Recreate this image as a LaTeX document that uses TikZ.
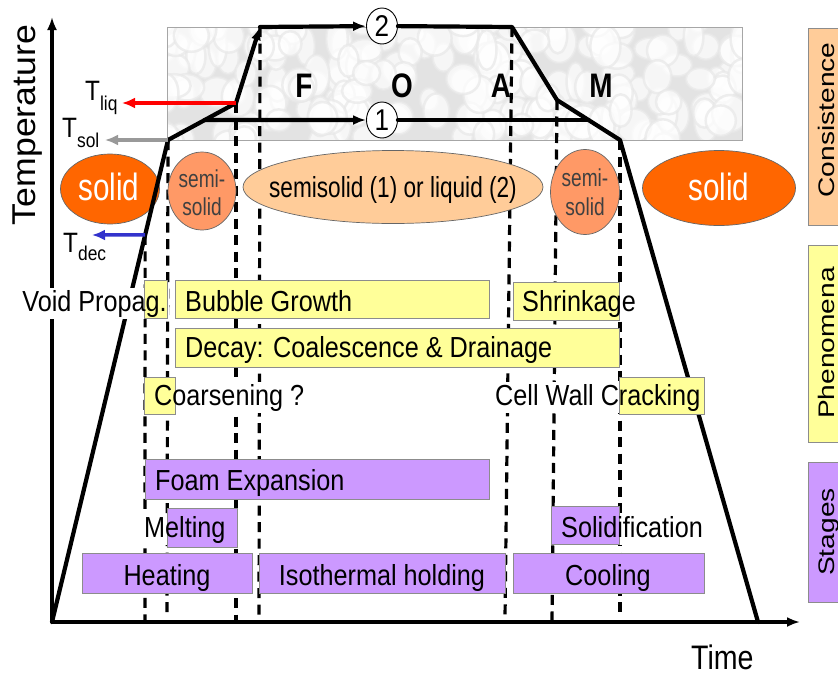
\documentclass[tikz,border=0pt]{standalone}
\usepackage{fontspec}
\setmainfont{Liberation Sans}
\newfontfamily\lblfont{Liberation Sans}[FakeStretch=0.87]
\newfontfamily\ellfont{Liberation Sans}[FakeStretch=0.78]
\newfontfamily\foamfont{Liberation Sans}[FakeStretch=0.82]
\newfontfamily\sidefont{Liberation Sans}[FakeStretch=1.25]
\newfontfamily\tempfont{Liberation Sans}[FakeStretch=1.08]
\newfontfamily\timefont{Liberation Sans}[FakeStretch=0.84]
\usetikzlibrary{arrows.meta,shapes.geometric,calc}
\pgfdeclarelayer{masks}
\pgfdeclarelayer{labels}
\pgfsetlayers{main,masks,labels}

\definecolor{solidorange}{HTML}{FF6600}
\definecolor{semisalmon}{HTML}{FF9966}
\definecolor{liqpeach}{HTML}{FFCC99}
\definecolor{phenyellow}{HTML}{FFFF99}
\definecolor{stagelilac}{HTML}{CC99FF}
\definecolor{tdecblue}{HTML}{3333CC}
\definecolor{tsolgray}{HTML}{999999}

% lowered subscript for the temperature labels
\newcommand{\lowsub}[2]{\raisebox{-#1pt}{\fontsize{20}{22}\selectfont #2}}
% white patch behind a label so that lines stop at its text
\newcommand{\maskbehind}[1]{%
  \begin{pgfonlayer}{masks}
    \fill[white] ($(#1.south west)+(-2pt,-2pt)$) rectangle ($(#1.north east)+(2pt,2pt)$);
  \end{pgfonlayer}}

\tikzset{
  profile/.style={line width=4.2pt, line cap=round, line join=round},
  axisline/.style={line width=3.4pt},
  arrowend/.style={-{Latex[length=13pt,width=10pt]}},
  guide/.style={line width=3.2pt, dash pattern=on 10pt off 6.5pt},
  ell/.style={ellipse, draw=black!60, line width=0.7pt, inner sep=0pt},
  ybox/.style={draw=black!45, line width=0.8pt, fill=phenyellow, inner sep=0pt},
  pbox/.style={draw=black!45, line width=0.8pt, fill=stagelilac, inner sep=0pt},
  lbl/.style={font=\lblfont\fontsize{29}{32}\selectfont, inner sep=0pt, text height=21pt, text depth=6pt},
  numcirc/.style={ellipse, draw, fill=white, line width=0.9pt, minimum width=31pt,
    minimum height=36pt, inner sep=0pt, font=\lblfont\fontsize{30}{30}\selectfont},
  foamletter/.style={font=\foamfont\bfseries\fontsize{34}{34}\selectfont, inner sep=0pt},
  tlabel/.style={font=\lblfont\fontsize{28}{30}\selectfont, inner sep=0pt},
  sidelbl/.style={font=\sidefont\fontsize{22.5}{24}\selectfont, inner sep=0pt, rotate=90, anchor=base},
  colarrow/.style={line width=4pt, -{Latex[length=13pt,width=11pt]}}
}

\begin{document}
\begin{tikzpicture}[x=1pt,y=-1pt]
\clip (0,0) rectangle (838,675);
\fill[white] (0,0) rectangle (838,675);

% ---------- foam micrograph strip ----------
\begin{scope}
  \clip (167,27) rectangle (742,140);
  \fill[gray!22] (167,27) rectangle (742,140);
  \pgfmathsetseed{11}
  \foreach \i in {1,...,200}{
    \pgfmathsetmacro{\cx}{160+590*rnd}
    \pgfmathsetmacro{\cy}{20+127*rnd}
    \pgfmathsetmacro{\rx}{9+9*rnd}
    \pgfmathsetmacro{\ry}{11+10*rnd}
    \filldraw[fill=white, draw=gray!18, line width=2.5pt, opacity=0.7]
      (\cx,\cy) ellipse [x radius=\rx, y radius=\ry];
  }
\end{scope}
\draw[gray!70, line width=1pt] (167,27) rectangle (742,140);

\node[foamletter, anchor=base] (lF) at (304,97) {F};
\node[foamletter, anchor=base] (lO) at (402,97) {O};
\node[foamletter, anchor=base] (lA) at (501,97) {A};
\node[foamletter, anchor=base] (lM) at (601,97) {M};

% ---------- key points of the temperature profile ----------
\coordinate (O)     at (52,622);
\coordinate (ytip)  at (52,17);
\coordinate (xtip)  at (800,622);
\coordinate (ksol)  at (168,140);
\coordinate (kliq)  at (236,103);
\coordinate (ktop)  at (260,27);
\coordinate (kA)    at (512,27);
\coordinate (kM)    at (557,100);
\coordinate (kend)  at (620,140);
\coordinate (tend)  at (758,622);
\coordinate (kdec)  at ($(O)!0.803!(ksol)$);
\coordinate (k1)    at ($(ksol)!0.54!(kliq)$);
\coordinate (k1r)   at ($(kM)!0.5!(kend)$);

% ---------- dashed guides ----------
\coordinate (g1) at (145,622);
\coordinate (g2) at (167,615);
\coordinate (g3) at (236,622);
\coordinate (g4) at (259,622);
\coordinate (g5) at (505,618);
\coordinate (g6) at (552,622);
\coordinate (g7) at (620,615);
\draw[guide] (kdec) -- (g1);
\draw[guide] (ksol) -- (g2);
\draw[guide] (kliq) -- (g3);
\draw[guide] (ktop) -- (g4);
\draw[guide] (kA)   -- (g5);
\draw[guide] (kM)   -- (g6);
\draw[guide] (kend) -- (g7);

% ---------- consistence ellipses ----------
\node[ell, fill=solidorange, minimum width=99pt, minimum height=70pt] (solidL) at (110,189) {};
\node[ell, fill=semisalmon, minimum width=68pt, minimum height=78pt] (semiL) at (202,191) {};
\node[ell, fill=liqpeach, minimum width=300pt, minimum height=73pt] (liq) at (393,187) {};
\node[ell, fill=semisalmon, minimum width=69pt, minimum height=85pt] (semiR) at (585,192) {};
\node[ell, fill=solidorange, minimum width=153pt, minimum height=75pt] (solidR) at (719,188) {};

\node[font=\ellfont\fontsize{38}{40}\selectfont, text=white, inner sep=0pt, anchor=base]
  (tsolidL) at (109,200) {solid};
\node[font=\ellfont\fontsize{38}{40}\selectfont, text=white, inner sep=0pt, anchor=base]
  (tsolidR) at (719,200) {solid};
\node[font=\ellfont\fontsize{24.5}{28}\selectfont, text=black!75, inner sep=0pt, align=center, anchor=base]
  (tsemiL) at (202,215) {semi-\\solid};
\node[font=\ellfont\fontsize{24.5}{29}\selectfont, text=black!75, inner sep=0pt, align=center, anchor=base]
  (tsemiR) at (585,215) {semi-\\solid};
\node[font=\ellfont\fontsize{29}{30}\selectfont, inner sep=0pt, anchor=base]
  (tliq) at (393,197) {semisolid (1) or liquid (2)};

% ---------- axes ----------
\draw[axisline, arrowend] (O) -- (ytip);
\draw[axisline, arrowend] (O) -- (xtip);
\node[font=\tempfont\fontsize{33}{34}\selectfont, inner sep=0pt, rotate=90, anchor=base]
  (ylabel) at (35,125) {Temperature};
\node[font=\timefont\fontsize{34}{34}\selectfont, inner sep=0pt, text depth=0pt, anchor=base west]
  (xlabel) at (691,669) {Time};

% ---------- temperature profiles 1 and 2 ----------
\node[numcirc] (c2) at (382,26) {2};
\node[numcirc] (c1) at (382,120) {1};
\draw[profile] (O) -- (ksol) -- (kliq);
\draw[profile, arrowend] (kliq) -- (ktop);
\draw[profile, arrowend] (ktop) -- (c2);
\draw[profile] (c2) -- (kA) -- (kM) -- (kend) -- (tend);
\draw[profile, arrowend] (k1) -- (c1);
\draw[profile] (c1) -- (k1r);

% ---------- characteristic temperatures ----------
\coordinate (aliq) at (122,103);
\coordinate (asol) at (105,140);
\coordinate (adec) at (92,235);
\draw[colarrow, red] (kliq) -- (aliq);
\draw[colarrow, tsolgray] (ksol) -- (asol);
\draw[colarrow, tdecblue, line width=3.5pt] (kdec) -- (adec);
\node[tlabel, anchor=base west] (Tliq) at (85,100) {T\lowsub{10}{liq}};
\node[tlabel, anchor=base west] (Tsol) at (62,137) {T\lowsub{10}{sol}};
\node[tlabel, anchor=base west] (Tdec) at (63,252) {T\lowsub{8}{dec}};

% ---------- category tabs ----------
\node[draw=black!45, line width=0.8pt, fill=liqpeach, minimum width=42pt, minimum height=197pt] (tabC) at (829,126.5) {};
\node[draw=black!45, line width=0.8pt, fill=phenyellow, minimum width=42pt, minimum height=197pt] (tabP) at (829,343.5) {};
\node[draw=black!45, line width=0.8pt, fill=stagelilac, minimum width=42pt, minimum height=140pt] (tabS) at (829,532) {};
\node[sidelbl] (lC) at (834,120) {Consistence};
\node[sidelbl] (lP) at (834,343) {Phenomena};
\node[sidelbl] (lS) at (834,532) {Stages};

% ---------- phenomena and stages bars ----------
\begin{pgfonlayer}{labels}
  \node[ybox, minimum width=23pt,  minimum height=38pt] (bvoid)   at (155.5,299) {};
  \node[ybox, minimum width=314pt, minimum height=38pt] (bbubble) at (332,299) {};
  \node[ybox, minimum width=106pt, minimum height=38pt] (bshrink) at (566,301) {};
  \node[ybox, minimum width=444pt, minimum height=39pt] (bdecay)  at (397,347.5) {};
  \node[ybox, minimum width=31pt,  minimum height=37pt] (bcoars)  at (159.5,395.5) {};
  \node[ybox, minimum width=85pt,  minimum height=37pt] (bcrack)  at (661.5,395.5) {};

  \node[pbox, minimum width=344pt, minimum height=40pt] (bfoam)  at (317,479) {};
  \node[pbox, minimum width=70pt,  minimum height=39pt] (bmelt)  at (202,527.5) {};
  \node[pbox, minimum width=68pt,  minimum height=38pt] (bsolid) at (585,525) {};
  \node[pbox, minimum width=170pt, minimum height=40pt] (bheat)  at (167,573) {};
  \node[pbox, minimum width=246pt, minimum height=40pt] (biso)   at (382,573) {};
  \node[pbox, minimum width=191pt, minimum height=40pt] (bcool)  at (608.5,573) {};

  \node[lbl, anchor=base east] (tvoid)   at (167,311) {Void Propag.};
  \node[lbl, anchor=base west] (tbubble) at (185,311) {Bubble Growth};
  \node[lbl, anchor=base west] (tshrink) at (522,311) {Shrinkage};
  \node[lbl, anchor=base west] (tdecay)  at (185,357) {Decay: Coalescence \& Drainage};
  \node[lbl, anchor=base west] (tcoars)  at (154,405) {Coarsening ?};
  \node[lbl, anchor=base west] (tcrack)  at (495,405) {Cell Wall Cracking};

  \node[lbl, anchor=base west] (tfoam)   at (155,490) {Foam Expansion};
  \node[lbl, anchor=base west] (tmelt)   at (144,537) {Melting};
  \node[lbl, anchor=base west] (tsolid)  at (561,537) {Solidification};
  \node[lbl, anchor=base]      (theat)   at (167,585) {Heating};
  \node[lbl, anchor=base]      (tiso)    at (382,585) {Isothermal holding};
  \node[lbl, anchor=base]      (tcool)   at (608,585) {Cooling};
\end{pgfonlayer}

\maskbehind{tvoid}
\maskbehind{tshrink}
\maskbehind{tcoars}
\maskbehind{tcrack}
\maskbehind{tmelt}
\maskbehind{tsolid}
\end{tikzpicture}
\end{document}
